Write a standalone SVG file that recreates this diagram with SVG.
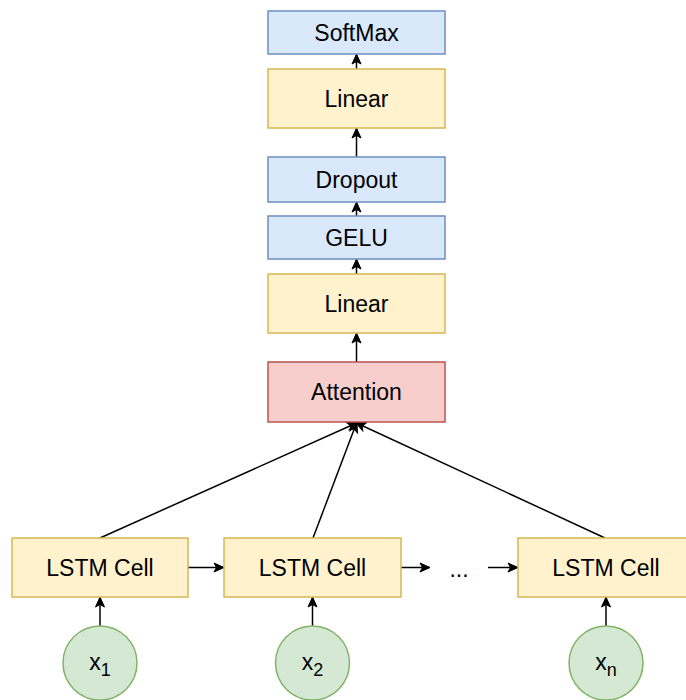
<svg xmlns="http://www.w3.org/2000/svg" width="686" height="700" viewBox="0 0 686 700">
<style>
text{font-family:"Liberation Sans",Arial,sans-serif;font-size:23px;fill:#000;text-anchor:middle}
.b{fill:#dae8fc;stroke:#6c8ebf;stroke-width:1.5}
.y{fill:#fff2cc;stroke:#d6b656;stroke-width:1.5}
.r{fill:#f8cecc;stroke:#b85450;stroke-width:1.5}
.g{fill:#d5e8d4;stroke:#82b366;stroke-width:1.5}
.e{fill:none;stroke:#000;stroke-width:1.5;marker-end:url(#a)}
</style>
<defs>
<marker id="a" markerUnits="userSpaceOnUse" viewBox="0 0 12 12" refX="10" refY="6" markerWidth="12" markerHeight="12" orient="auto">
<path d="M1,1.5 L11,6 L1,10.5 L3.5,6 Z" fill="#000" stroke="#000" stroke-width="1"/>
</marker>
</defs>
<g id="edges">
<line class="e" x1="356.5" y1="69" x2="356.5" y2="55"/>
<line class="e" x1="356.5" y1="157" x2="356.5" y2="129"/>
<line class="e" x1="356.5" y1="216" x2="356.5" y2="203"/>
<line class="e" x1="356.5" y1="274" x2="356.5" y2="260"/>
<line class="e" x1="356.5" y1="362" x2="356.5" y2="334"/>
<line class="e" x1="100" y1="538" x2="356.5" y2="423"/>
<line class="e" x1="313" y1="538" x2="356.5" y2="423"/>
<line class="e" x1="605" y1="538" x2="356.5" y2="423"/>
<line class="e" x1="188" y1="567.5" x2="223" y2="567.5"/>
<line class="e" x1="401" y1="567.5" x2="429" y2="567.5"/>
<line class="e" x1="488" y1="567.5" x2="517" y2="567.5"/>
<line class="e" x1="100" y1="626" x2="100" y2="598"/>
<line class="e" x1="312.5" y1="626" x2="312.5" y2="598"/>
<line class="e" x1="606" y1="626" x2="606" y2="598"/>
</g>
<g id="softmax"><rect class="b" x="268" y="11" width="177" height="43"/><text x="356.5" y="41">SoftMax</text></g>
<g id="linear1"><rect class="y" x="268" y="69" width="177" height="59"/><text x="356.5" y="107">Linear</text></g>
<g id="dropout"><rect class="b" x="268" y="157" width="177" height="45"/><text x="356.5" y="188">Dropout</text></g>
<g id="gelu"><rect class="b" x="268" y="216" width="177" height="43"/><text x="356.5" y="246">GELU</text></g>
<g id="linear2"><rect class="y" x="268" y="274" width="177" height="59"/><text x="356.5" y="312">Linear</text></g>
<g id="attention"><rect class="r" x="268" y="362" width="177" height="60"/><text x="356.5" y="400">Attention</text></g>
<g id="lstm1"><rect class="y" x="12" y="538" width="176" height="59"/><text x="100" y="576">LSTM Cell</text></g>
<g id="lstm2"><rect class="y" x="224" y="538" width="177" height="59"/><text x="312.5" y="576">LSTM Cell</text></g>
<g id="lstm3"><rect class="y" x="518" y="538" width="177" height="59"/><text x="606" y="576">LSTM Cell</text></g>
<g id="dots"><text x="459" y="577">...</text></g>
<g id="x1"><circle class="g" cx="100" cy="663" r="37"/><text x="100" y="670">x<tspan font-size="18" dy="6">1</tspan></text></g>
<g id="x2"><circle class="g" cx="312.5" cy="663" r="37"/><text x="312.5" y="670">x<tspan font-size="18" dy="6">2</tspan></text></g>
<g id="xn"><circle class="g" cx="606" cy="663" r="37"/><text x="606" y="670">x<tspan font-size="18" dy="6">n</tspan></text></g>
</svg>
